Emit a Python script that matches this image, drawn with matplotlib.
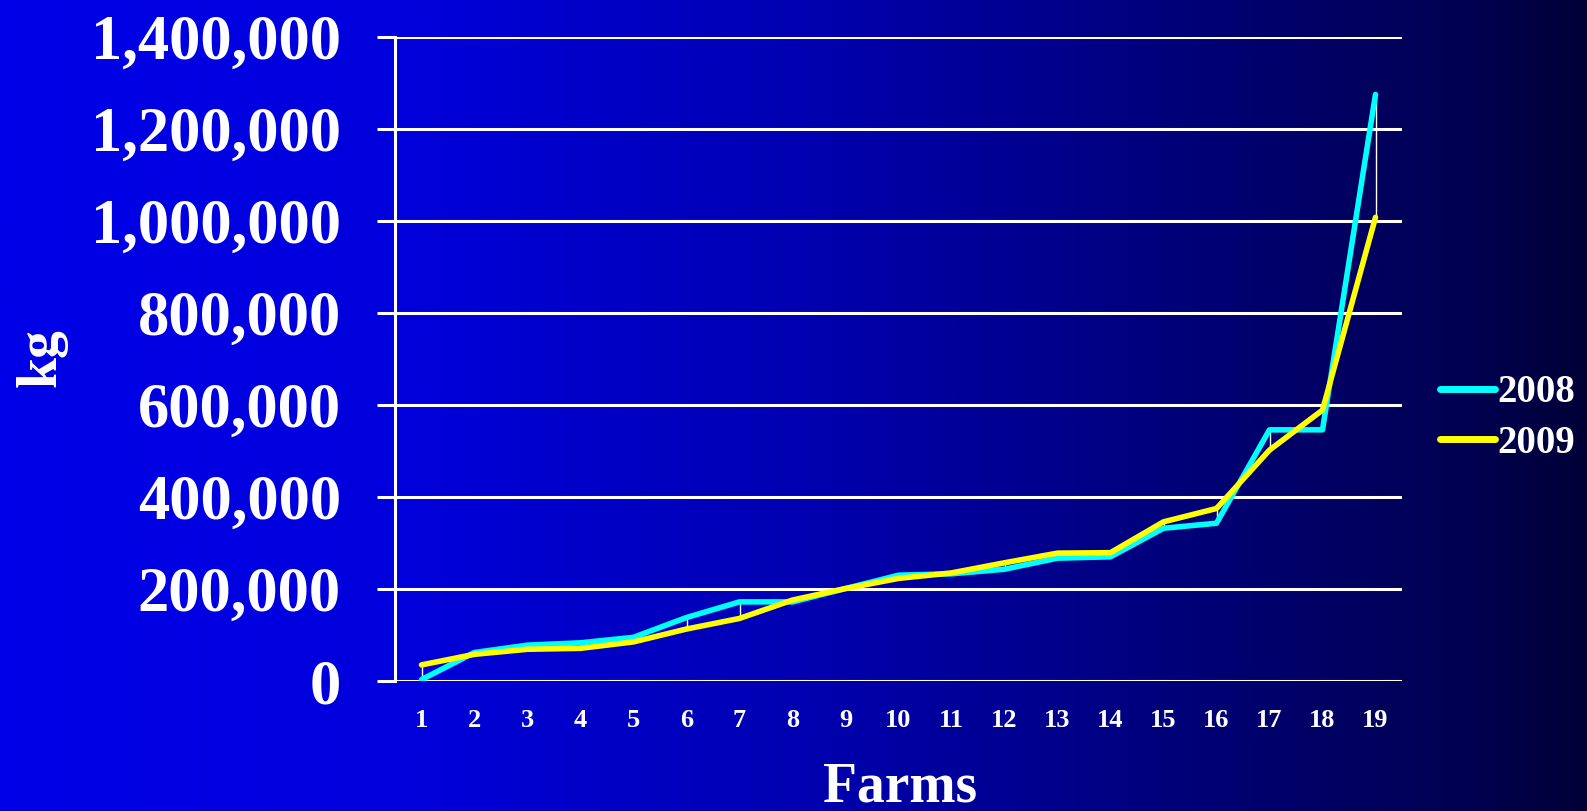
import numpy as np
import matplotlib
matplotlib.use("Agg")
import matplotlib.pyplot as plt
from matplotlib.ticker import FuncFormatter, MultipleLocator

# Farm production, sorted by size
farms = list(range(1, 20))
kg_2008 = [3000, 62000, 78000, 83000, 95000, 138000, 172000, 172000, 201000,
           230000, 233000, 243000, 267000, 270000, 332000, 343000, 546000,
           546000, 1275000]
kg_2009 = [35000, 58000, 69000, 71000, 85000, 113000, 136000, 176000, 201000,
           223000, 235000, 257000, 278000, 279000, 346000, 375000, 502000,
           589000, 1008000]
series_labels = ["2008", "2009"]

W, H, DPI = 1587, 811, 100
FONT = "Liberation Serif"

fig = plt.figure(figsize=(W / DPI, H / DPI), dpi=DPI)

# Horizontal blue-to-black background gradient
bg = fig.add_axes([0, 0, 1, 1], zorder=0)
xs = np.linspace(0, 1, 800)
blue = np.interp(xs, [0.0, 0.25, 0.5, 0.79, 0.93, 1.0],
                 [232, 220, 178, 110, 80, 55]) / 255.0
grad = np.zeros((2, xs.size, 3))
grad[:, :, 2] = blue
bg.imshow(grad, aspect="auto", extent=[0, 1, 0, 1], interpolation="bilinear")
bg.set_axis_off()

left, right, top, bottom = 395, 1402, 37, 681
ax = fig.add_axes([left / W, 1 - bottom / H, (right - left) / W, (bottom - top) / H],
                  zorder=1)
ax.set_facecolor("none")

# High-low connectors between the two years
lo = np.minimum(kg_2008, kg_2009)
hi = np.maximum(kg_2008, kg_2009)
ax.vlines(farms, lo, hi, color="white", lw=1.0, zorder=2)

ax.plot(farms, kg_2008, color="#00FFFF", lw=4.0, solid_joinstyle="round",
        solid_capstyle="round", label=series_labels[0], zorder=3)
ax.plot(farms, kg_2009, color="#FFFF00", lw=4.0, solid_joinstyle="round",
        solid_capstyle="round", label=series_labels[1], zorder=4)

ax.set_xlim(0.5, 19.5)
ax.set_ylim(0, 1400000)
ax.yaxis.set_major_locator(MultipleLocator(200000))
ax.yaxis.set_major_formatter(FuncFormatter(lambda v, p: f"{v:,.0f}"))
ax.set_xticks(farms)
ax.set_xticklabels([str(f) for f in farms])

ax.grid(axis="y", color="white", lw=2.2)
ax.set_axisbelow(True)
for s in ["top", "right", "bottom"]:
    ax.spines[s].set_visible(False)
ax.spines["left"].set_color("white")
ax.spines["left"].set_linewidth(2.2)

ax.tick_params(axis="y", colors="white", length=13, width=2.2, pad=26,
               direction="out")
ax.tick_params(axis="x", colors="white", length=0, pad=20)
for t in ax.get_yticklabels():
    t.set_fontfamily(FONT)
    t.set_fontweight("bold")
    t.set_fontsize(45)
for t in ax.get_xticklabels():
    t.set_fontfamily(FONT)
    t.set_fontweight("bold")
    t.set_fontsize(19)

fig.text(42 / W, 1 - 358 / H, "kg", rotation=90, ha="center", va="center",
         color="white", fontsize=40, fontweight="bold", family=FONT)
fig.text(900 / W, 1 - 802 / H, "Farms", ha="center", va="baseline",
         color="white", fontsize=40, fontweight="bold", family=FONT)

leg = fig.legend(loc="center left", bbox_to_anchor=(1440 / W, 1 - 418 / H),
                 frameon=False, borderpad=0, borderaxespad=0,
                 handlelength=1.42, handletextpad=0.05, labelspacing=0.35,
                 prop={"family": FONT, "weight": "bold", "size": 28})
for txt in leg.get_texts():
    txt.set_color("white")
for ln in leg.get_lines():
    ln.set_linewidth(5)

fig.savefig("out.png", dpi=DPI)
